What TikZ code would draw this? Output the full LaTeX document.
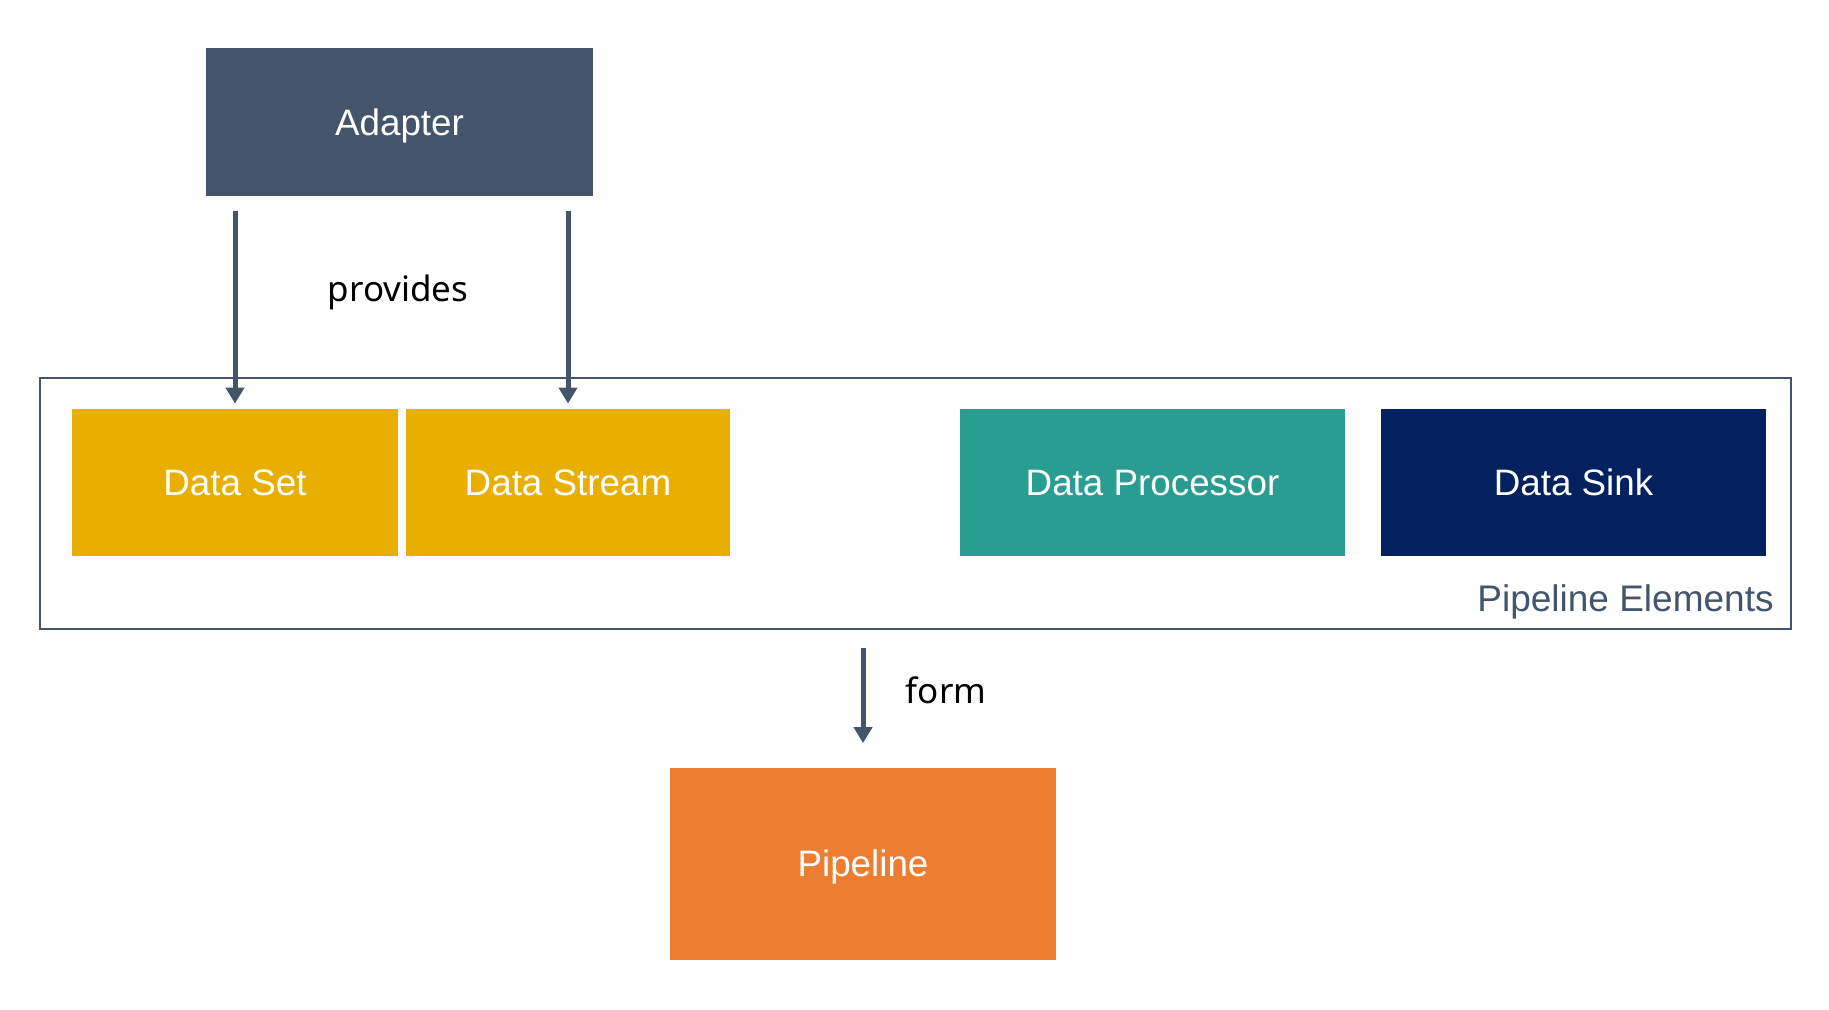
\documentclass[tikz,border=0pt]{standalone}
\usepackage{fontspec}
\setmainfont{Liberation Sans}
\newfontfamily\labelfont{Noto Sans}
\usetikzlibrary{arrows.meta}
\definecolor{slate}{HTML}{44546A}
\definecolor{gold}{HTML}{E8AE00}
\definecolor{teal2}{HTML}{299D91}
\definecolor{navy2}{HTML}{03215E}
\definecolor{orange2}{HTML}{ED7D31}
\tikzset{
  box/.style={rectangle, inner sep=0pt, text=white, font=\fontsize{18.4}{22}\selectfont, text height=13.1pt, text depth=0pt},
  arr/.style={draw=slate, line width=2.5pt, -{Triangle[width=9pt,length=8pt]}},
  lbl/.style={inner sep=0pt, text=black, font=\labelfont\fontsize{17.5}{21}\selectfont},
}
\begin{document}
\begin{tikzpicture}[x=0.5pt,y=-0.5pt]
\useasboundingbox (0,0) rectangle (1829,1010);
\node[box, fill=slate, minimum width=193.5pt, minimum height=74pt] (adapter) at (399.5,122) {Adapter};
\node[rectangle, draw=slate, line width=1pt, minimum width=875.5pt, minimum height=125.5pt, inner sep=0pt] (frame) at (915.5,503.5) {};
\node[box, fill=gold, minimum width=163pt, minimum height=73.5pt] (dset) at (235,482.5) {Data Set};
\node[box, fill=gold, minimum width=162pt, minimum height=73.5pt] (dstream) at (568,482.5) {Data Stream};
\node[box, fill=teal2, minimum width=192.5pt, minimum height=73.5pt] (dproc) at (1152.5,482.5) {Data Processor};
\node[box, fill=navy2, minimum width=192.5pt, minimum height=73.5pt] (dsink) at (1573.5,482.5) {Data Sink};
\node[inner sep=0pt, anchor=base east, text=slate, font=\fontsize{18.5}{22}\selectfont] (pelabel) at (1774,611) {Pipeline Elements};
\node[box, fill=orange2, minimum width=193pt, minimum height=96pt] (pipe) at (863,863.5) {Pipeline};
\node[lbl] (provides) at (398,292) {provides};
\node[lbl] (form) at (946,690.5) {form};
\draw[arr] ([yshift=-7.5pt]adapter.south -| dset.north) -- ([yshift=2.5pt]dset.north);
\draw[arr] ([yshift=-7.5pt]adapter.south -| dstream.north) -- ([yshift=2.5pt]dstream.north);
\draw[arr] ([yshift=-9pt]pipe.north |- frame.south) -- ([yshift=12pt]pipe.north);
\end{tikzpicture}
\end{document}
